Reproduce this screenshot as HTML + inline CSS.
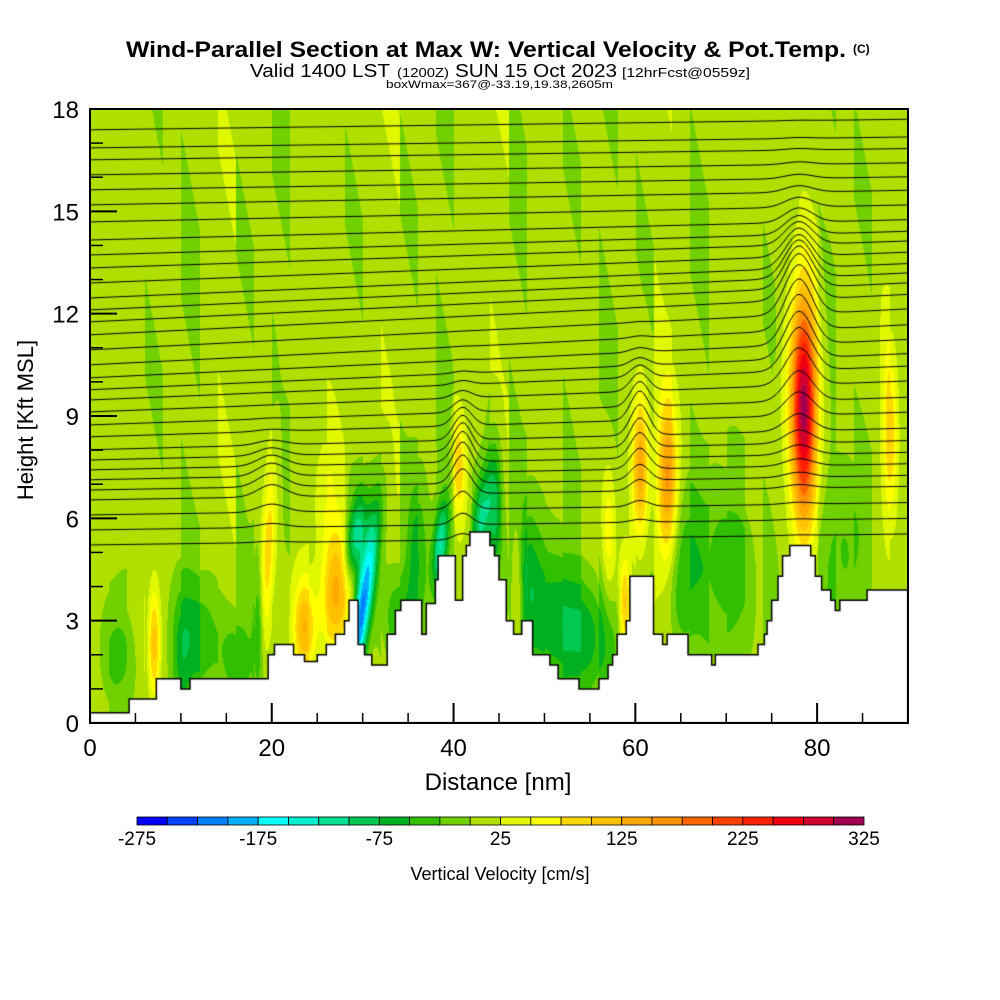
<!DOCTYPE html>
<html><head><meta charset="utf-8"><style>
body{margin:0;background:#fff;width:1000px;height:1000px;overflow:hidden;position:relative;font-family:"Liberation Sans",sans-serif}
#plot{position:absolute;left:90px;top:109px}
svg{position:absolute;left:0;top:0}
</style></head><body>
<canvas id="plot" width="818" height="614"></canvas>
<svg id="ov" width="1000" height="1000">
<text x="126" y="57" font-size="22" font-weight="bold" textLength="720" lengthAdjust="spacingAndGlyphs">Wind-Parallel Section at Max W: Vertical Velocity &amp; Pot.Temp.</text>
<text x="853" y="53" font-size="12" font-weight="bold">(C)</text>
<text x="250" y="77" font-size="18" textLength="140" lengthAdjust="spacingAndGlyphs">Valid 1400 LST</text>
<text x="397" y="77" font-size="13" textLength="52" lengthAdjust="spacingAndGlyphs">(1200Z)</text>
<text x="455" y="77" font-size="18" textLength="162" lengthAdjust="spacingAndGlyphs">SUN 15 Oct 2023</text>
<text x="622" y="77" font-size="13" textLength="128" lengthAdjust="spacingAndGlyphs">[12hrFcst@0559z]</text>
<text x="386" y="88" font-size="11" textLength="227" lengthAdjust="spacingAndGlyphs">boxWmax=367@-33.19,19.38,2605m</text>
<g id="axes"></g>
<text x="498" y="790" font-size="24" text-anchor="middle">Distance [nm]</text>
<text transform="translate(33,420) rotate(-90)" font-size="22" text-anchor="middle">Height [Kft MSL]</text>
<g id="cbar"></g>
<text x="500" y="880" font-size="18" text-anchor="middle">Vertical Velocity [cm/s]</text>
</svg>
<script>
// ---- data ----
const colors=["#0000ff","#0040ff","#0080ff","#00b0ff","#00ffff","#00f0d0","#00e090","#00c850","#00b020","#30c000","#70d000","#b0e000","#e0f800","#ffff00","#ffd800","#ffc000","#ffa800","#ff9000","#ff6800","#ff4000","#ff2000","#f00010","#d00030","#a00050"];
const cbarTicks=[-275,-175,-75,25,125,225,325];
const xTicks=[0,20,40,60,80];
const yTicks=[0,3,6,9,12,15,18];
// terrain: distance (nm) and height (kft)
const terrX=[0,4.3,7.3,10,11,15.3,19.6,20.3,21,22.4,23.6,25,26,27,28,28.5,29.5,30.2,31,32.7,33.6,34.2,36.5,37,38,38.3,39.8,40.2,41,41.4,41.8,43.5,44,44.5,45,45.8,46.6,47.5,48.7,50.6,51.5,52.5,53.8,55.5,56,57,57.5,58,59,59.4,62,63,63.5,65.3,65.8,68.4,68.8,73,73.5,74.2,74.5,75,75.7,76.2,77,78.8,79.3,79.8,80.5,81.5,82,82.5,85,85.5,89.5,90];
const terrZ=[0.3,0.7,1.3,1.0,1.3,1.3,2.0,2.3,2.3,2.0,1.8,2.0,2.3,2.6,3.0,3.6,2.3,2.0,1.7,2.6,3.3,3.6,2.6,3.5,4.2,4.9,4.9,3.6,4.9,5.2,5.6,5.6,5.2,4.9,4.2,3.0,2.6,3.0,2.0,1.7,1.3,1.3,1.0,1.0,1.3,1.7,2.0,2.6,3.0,4.3,2.6,2.3,2.6,2.6,2.0,1.7,2.0,2.0,2.3,2.6,3.0,3.6,4.3,4.9,5.2,5.2,4.9,4.3,3.9,3.6,3.3,3.6,3.6,3.9,3.9,3.6];
// w cells: x, z, sx, sz, amplitude (cm/s), tilt
const cellX=[78.5,63.5,60.5,27.5,23.5,19.5,7,40.5,47,58.8,88,30,29,38.5,43,51,55,12,16,3,34,65,70,83,10,36,44.5,57,26,18.5,48];
const cellZ=[9.3,7.0,7.5,4.0,2.8,5.0,2.3,7.5,4.0,3.5,8.5,3.5,5.3,5.2,6.0,3.0,2.5,2.5,1.8,2.0,3.0,4.5,4.5,5.0,2.0,5.0,6.3,5.5,6.5,3.0,4.5];
const cellSX=[1.0,0.8,0.6,1.3,0.9,0.6,0.5,0.5,0.5,0.4,0.6,0.7,0.8,0.6,0.7,2.5,2,1.5,1.5,1.5,1.5,1.5,2.5,2,0.8,0.8,0.6,0.6,1,0.4,1.2];
const cellSZ=[2.3,1.7,1.5,1.2,1.0,2.0,1.2,1.0,1.5,1.0,1.8,1.8,1.0,1.0,1.0,1.5,1.2,1.2,1.0,1.2,1.0,1.8,1.8,2,1.5,1.5,1.5,1.5,1.5,1.5,1.5];
const cellAmp=[300,150,140,140,110,80,110,80,70,100,90,-230,-150,-130,-110,-75,-60,-60,-50,-40,-60,-50,-50,-35,-55,-65,-90,60,40,-70,-60];
const cellTilt=[0,0,0,0.3,0,0.2,0,0,0,0,0,0.5,0.5,0.3,0.3,0,0,0,0,0,0,0,0,0,0,0,0,0,0,0,0];
// background vertical banding per 2 nm column (cm/s)
const bands=[10,-5,15,-10,5,-15,10,20,-10,5,-15,10,-5,15,-10,5,20,-10,10,-15,15,-5,20,-15,5,10,-10,15,-15,5,-10,20,5,-15,10,-5,15,-10,5,10,-15,5,-10,15,-5,10];
// potential temperature contours: height at left edge (kft)
const thetaLevels=[17.39,16.86,16.51,16.07,15.63,15.19,14.69,14.16,13.72,13.34,12.9,12.46,12.11,11.76,11.38,10.94,10.5,10.12,9.77,9.47,9.12,8.74,8.39,8.01,7.71,7.42,7.13,6.83,6.54,6.1,5.66,5.22];
const bumpX=[78,60.5,41,20];
const bumpZ=[11.5,8.5,7.5,7];
const bumpSX=[1.5,1.0,1.0,1.5];
const bumpSZ=[2,1.2,1.2,0.8];
const bumpAmp=[1.5,0.9,0.9,0.4];

// ---- axis functions ----
const L=90,T=109,W=818,H=614;
const sx=d=>L+d/90*W, sy=z=>T+H-z/18*H;
function terr(x){for(let i=1;i<terrX.length;i++){if(x<terrX[i])return terrZ[i-1];}return terrZ[terrZ.length-1];}
function wval(x,z){
 let v=8+bands[Math.min(bands.length-1,Math.floor(x/2))]*(0.6+0.4*Math.sin(z*0.7+x));
 for(let i=0;i<cellX.length;i++){
  const dx=(x-cellX[i]-cellTilt[i]*(z-cellZ[i]))/cellSX[i],dz=(z-cellZ[i])/cellSZ[i];
  const e=dx*dx+dz*dz; if(e<12)v+=cellAmp[i]*Math.exp(-e/2);
 }
 return v;
}
// ---- draw field ----
const cv=document.getElementById('plot'),ctx=cv.getContext('2d');
const img=ctx.createImageData(W,H);
const rgb=colors.map(c=>[parseInt(c.substr(1,2),16),parseInt(c.substr(3,2),16),parseInt(c.substr(5,2),16)]);
for(let py=0;py<H;py++){const z=(H-py)/H*18;for(let px=0;px<W;px++){const x=px/W*90;
 let idx=Math.floor((wval(x,z)+275)/25);idx=Math.max(0,Math.min(23,idx));const c=rgb[idx],o=(py*W+px)*4;
 img.data[o]=c[0];img.data[o+1]=c[1];img.data[o+2]=c[2];img.data[o+3]=255;}}
ctx.putImageData(img,0,0);
// theta contours
ctx.strokeStyle='#000';ctx.lineWidth=1;
thetaLevels.forEach(b=>{ctx.beginPath();for(let px=0;px<=W;px+=2){const x=px/W*90;
 let h=b+(0.3+0.9*Math.exp(-Math.pow((b-11)/3,2)))*x/90;
 for(let i=0;i<bumpX.length;i++){const dx=(x-bumpX[i])/bumpSX[i],dz=(h-bumpZ[i])/bumpSZ[i];h+=bumpAmp[i]*Math.exp(-(dx*dx+dz*dz)/2);}
 const py=H-h/18*H; px?ctx.lineTo(px,py):ctx.moveTo(px,py);}ctx.stroke();});
// terrain
ctx.fillStyle='#fff';ctx.beginPath();ctx.moveTo(0,H);
for(let i=0;i<terrX.length;i++){const x0=terrX[i]/90*W,x1=(i+1<terrX.length?terrX[i+1]:90)/90*W,y=H-terrZ[i]/18*H;ctx.lineTo(x0,y);ctx.lineTo(x1,y);}
ctx.lineTo(W,H);ctx.closePath();ctx.fill();ctx.lineWidth=1.5;ctx.stroke();

// ---- axes ----
const NS='http://www.w3.org/2000/svg',ax=document.getElementById('axes');
function mk(tag,attrs,txt){const e=document.createElementNS(NS,tag);for(const k in attrs)e.setAttribute(k,attrs[k]);if(txt!==undefined)e.textContent=txt;return e;}
const frame=mk('rect',{x:L,y:T,width:W,height:H,fill:'none',stroke:'#000','stroke-width':2});


ax.appendChild(frame);
for(let z=1;z<18;z++){const maj=z%3===0;const t=mk('line',{x1:L,x2:L+(maj?27:13),y1:sy(z),y2:sy(z),stroke:'#000','stroke-width':maj?2:1.5});
 
 
 ax.appendChild(t);}
for(let d=5;d<90;d+=5){const maj=d%20===0;const t=mk('line',{x1:sx(d),x2:sx(d),y1:T+H,y2:T+H-(maj?20:10),stroke:'#000','stroke-width':maj?2:1.5});
 
 
 ax.appendChild(t);}
yTicks.forEach(v=>{const t=mk('text',{x:79,y:sy(v)+9,'font-size':24,'text-anchor':'end'},v);
 
 
 ax.appendChild(t);});
xTicks.forEach(v=>{const t=mk('text',{x:sx(v),y:756,'font-size':24,'text-anchor':'middle'},v);
 
 
 ax.appendChild(t);});
// ---- colorbar ----
const cb=document.getElementById('cbar'),cx0=137,cw=727/colors.length;
colors.forEach((c,i)=>{const r=mk('rect',{x:cx0+i*cw,y:817,width:cw,height:8,fill:c,stroke:'#000','stroke-width':0.8});
 
 
 cb.appendChild(r);});
cbarTicks.forEach(v=>{const t=mk('text',{x:cx0+(v+275)/25*cw,y:845,'font-size':19,'text-anchor':'middle'},v);
 
 
 cb.appendChild(t);});
</script>
</body></html>
